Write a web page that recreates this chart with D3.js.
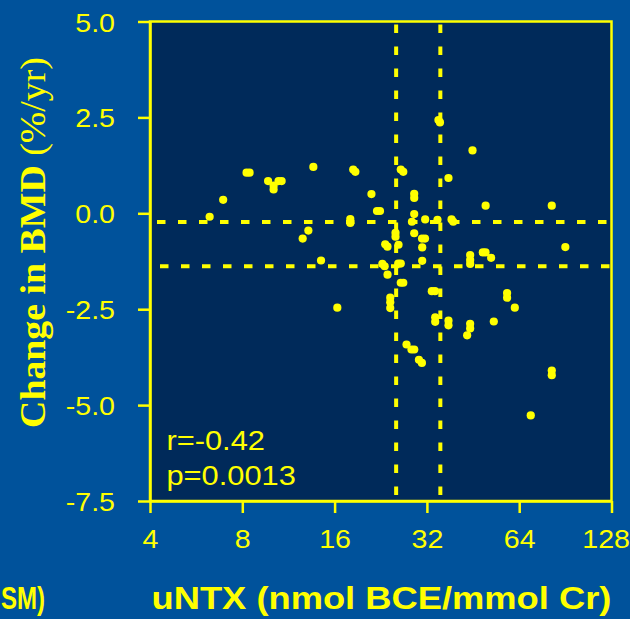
<!DOCTYPE html>
<html>
<head>
<meta charset="utf-8">
<script src="https://cdn.jsdelivr.net/npm/d3@7"></script>
<style>
  html, body { margin: 0; padding: 0; background: #00529b; }
  svg { display: block; }
</style>
</head>
<body>
<svg id="chart" width="630" height="619"></svg>
<script>
// ---- data ----
const xTickValues = [4, 8, 16, 32, 64, 128];
const yTickValues = [5.0, 2.5, 0.0, -2.5, -5.0, -7.5];
const uNTX = [
  6.26, 6.93, 8.26, 8.45, 9.71, 10.5, 10.75, 10.12, 10.12, 13.64,
  13.14, 12.59, 14.45, 16.33, 18.4, 18.7, 18.0, 18.0, 21.1, 22.0,
  22.5, 23.4, 23.8, 22.9, 23.3, 23.81, 25.28, 25.28, 25.86, 25.8,
  26.3, 26.3, 26.8, 26.3, 26.8, 24.3, 24.3, 24.3, 27.46, 28.5,
  29.1, 30.14, 30.82, 29.09, 29.09, 29.09, 28.6, 29.09, 30.85, 31.55,
  30.89, 30.89, 31.59, 33.2, 34.0, 34.06, 34.06, 34.65, 34.9, 35.3,
  37.63, 38.5, 39.0, 37.63, 37.63, 45.07, 44.28, 44.28, 44.28, 48.7,
  49.7, 51.83, 49.74, 43.29, 44.28, 44.28, 52.89, 58.44, 58.44, 61.92,
  81.74, 90.5, 81.74, 81.74, 69.8
];
const bmdChange = [
  -0.09, 0.35, 1.06, 1.06, 0.84, 0.84, 0.84, 0.62, 0.72, 1.21,
  -0.45, -0.66, -1.23, -2.46, 1.14, 1.08, -0.15, -0.25, 0.50, 0.06,
  0.06, -0.81, -0.87, -1.32, -1.38, -1.60, -0.51, -0.61, -0.82, -1.31,
  -1.31, 1.14, 1.08, -1.81, -1.81, -2.20, -2.32, -2.47, -3.42, -3.55,
  -3.55, -3.82, -3.90, 0.40, 0.51, -0.02, -0.22, -0.52, -0.66, -0.66,
  -0.89, -1.24, -0.16, -2.03, -2.03, -2.71, -2.83, -0.17, 2.43, 2.37,
  0.92, -0.16, -0.22, -2.80, -2.92, 1.64, -1.09, -1.22, -1.32, -1.02,
  -1.02, -1.16, 0.20, -3.18, -2.88, -3.00, -2.82, -2.08, -2.20, -2.46,
  0.20, -0.88, -4.10, -4.22, -5.27
];
const cutoffX = [25.4, 35.4];
const cutoffY = [-0.23, -1.38];
const statsText = ["r=-0.42", "p=0.0013"];
const xTitle = "uNTX (nmol BCE/mmol Cr)";
const yTitleBold = "Change in BMD";
const yTitleNormal = " (%/yr)";
const leftFragment = "SM)";

// ---- layout ----
const YELLOW = "#ffff00";
const svg = d3.select("#chart");
const L = 150, R = 611.5, T = 21.5, B = 501;
const x = d3.scaleLog().base(2).domain([4, 128]).range([L, R]);
const y = d3.scaleLinear().domain([-7.5, 5]).range([B, T]);
const stretch = 1.1;

svg.append("rect").attr("width", 630).attr("height", 619).attr("fill", "#00529b");
svg.append("rect").attr("x", L).attr("y", T).attr("width", R - L).attr("height", B - T)
  .attr("fill", "#002a5a").attr("stroke", YELLOW).attr("stroke-width", 2.5);

svg.append("defs").append("clipPath").attr("id", "plotclip")
  .append("rect").attr("x", L + 1.5).attr("y", T + 1.5).attr("width", R - L - 3).attr("height", B - T - 3);
const plot = svg.append("g").attr("clip-path", "url(#plotclip)");

// cutoff dashed lines
plot.selectAll("line.h").data(cutoffY).enter().append("line")
  .attr("x1", L).attr("x2", R).attr("y1", d => y(d)).attr("y2", d => y(d))
  .attr("stroke", YELLOW).attr("stroke-width", 4)
  .attr("stroke-dasharray", "8.5,12.5").attr("stroke-dashoffset", (d, i) => i === 0 ? 14 : 11);
plot.selectAll("line.v").data(cutoffX).enter().append("line")
  .attr("y1", T).attr("y2", B).attr("x1", d => x(d)).attr("x2", d => x(d))
  .attr("stroke", YELLOW).attr("stroke-width", 4)
  .attr("stroke-dasharray", "8.5,13.5").attr("stroke-dashoffset", 19);

// points
const pts = uNTX.map((v, i) => ({ x: v, y: bmdChange[i] }));
plot.selectAll("circle").data(pts).enter().append("circle")
  .attr("cx", d => x(d.x)).attr("cy", d => y(d.y)).attr("r", 4.1).attr("fill", YELLOW);

// axes
const yAxis = svg.append("g").attr("transform", `translate(${L},0)`)
  .call(d3.axisLeft(y).tickValues(yTickValues).tickFormat(d => d.toFixed(1)).tickSize(12).tickSizeOuter(0));
const xAxis = svg.append("g").attr("transform", `translate(0,${B})`)
  .call(d3.axisBottom(x).tickValues(xTickValues).tickFormat(d => String(d)).tickSize(12).tickSizeOuter(0));
[yAxis, xAxis].forEach(g => {
  g.select(".domain").attr("stroke", YELLOW).attr("stroke-width", 2.5);
  g.selectAll(".tick line").attr("stroke", YELLOW).attr("stroke-width", 2.5);
  g.selectAll(".tick text").attr("fill", YELLOW)
    .attr("font-family", "Liberation Sans, Arial, sans-serif");
});
yAxis.selectAll(".tick text").attr("font-size", 26).attr("x", 0).attr("dy", null)
  .attr("transform", `translate(-35,9.5) scale(${stretch},1)`);
xAxis.selectAll(".tick text").attr("font-size", 26).attr("y", 0).attr("dy", null)
  .attr("text-anchor", (d, i) => i === xTickValues.length - 1 ? "end" : "middle")
  .attr("transform", (d, i) => i === xTickValues.length - 1
    ? `translate(18,46.5) scale(${stretch},1)`
    : `translate(0,46.5) scale(${stretch},1)`);

// stats text
svg.selectAll("text.stat").data(statsText).enter().append("text")
  .attr("class", "stat")
  .attr("transform", (d, i) => `translate(166.5,${i === 0 ? 450 : 485}) scale(${stretch},1)`)
  .attr("fill", YELLOW).attr("font-family", "Liberation Sans, Arial, sans-serif")
  .attr("font-size", 28).text(d => d);

// x title
const xt = svg.append("text").attr("fill", YELLOW)
  .attr("font-family", "Liberation Sans, Arial, sans-serif").attr("font-weight", "bold")
  .attr("font-size", 32).text(xTitle);
const xtLen = xt.node().getComputedTextLength();
xt.attr("transform", `translate(151.5,609) scale(${460 / xtLen},1)`);

// left fragment of neighbouring label
const lf = svg.append("text").attr("fill", YELLOW)
  .attr("font-family", "Liberation Sans, Arial, sans-serif").attr("font-weight", "bold")
  .attr("font-size", 32).attr("text-anchor", "start").text(leftFragment);
const lfLen = lf.node().getComputedTextLength();
lf.attr("transform", `translate(1,609) scale(${Math.min(stretch, 44 / lfLen)},1)`);

// y title
const yt = svg.append("text").attr("fill", YELLOW)
  .attr("font-family", "Liberation Serif, Times New Roman, serif")
  .attr("font-size", 33).attr("text-anchor", "middle");
yt.append("tspan").attr("font-weight", "bold").text(yTitleBold);
yt.append("tspan").attr("font-weight", "normal").text(yTitleNormal);
const ytLen = yt.node().getComputedTextLength();
yt.attr("transform", `translate(45,242.5) rotate(-90) scale(${371 / ytLen},${stretch})`);
</script>
</body>
</html>
